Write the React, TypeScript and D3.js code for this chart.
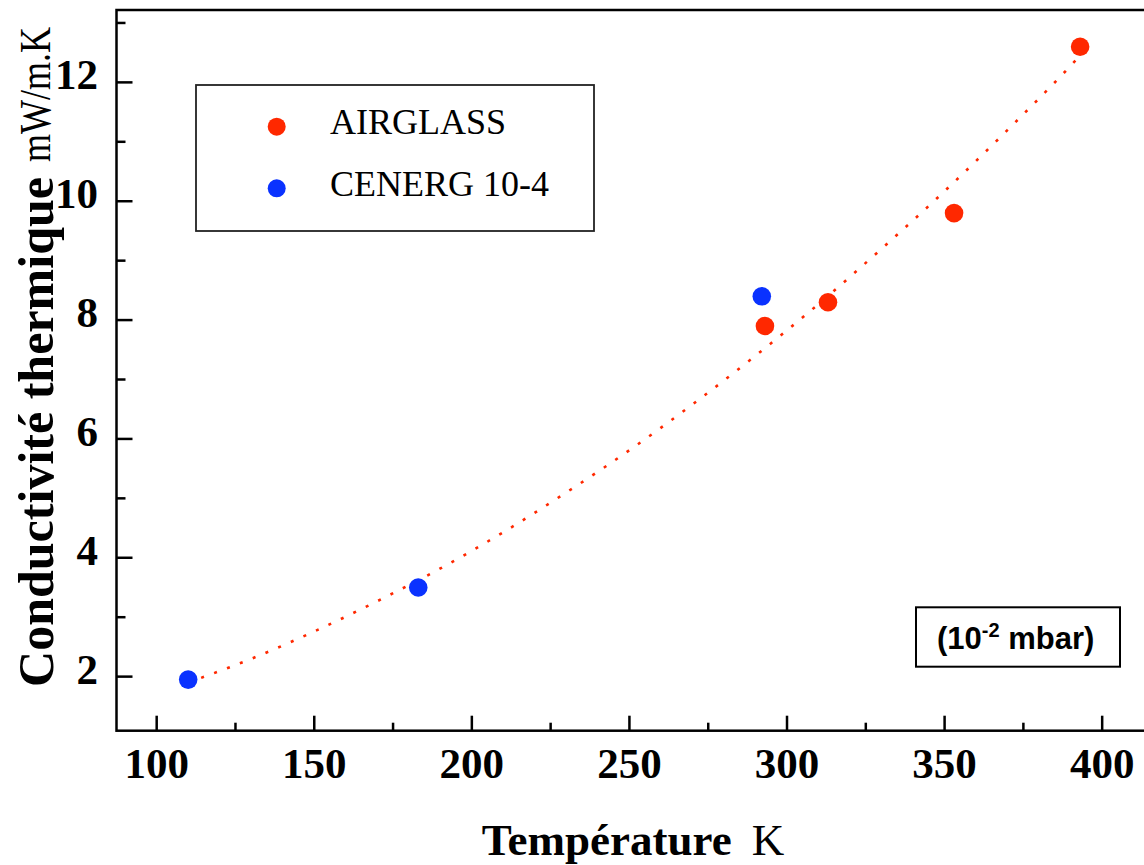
import React from "react";
import * as d3 from "d3";

const W = 1144;
const H = 865;

// Data
const airglassT = [293, 313, 353, 393];
const airglassK = [7.9, 8.3, 9.8, 12.6];
const cenergT = [110, 183, 292];
const cenergK = [1.95, 3.5, 8.4];
// fitted curve (dotted)
const fitT = [110, 130, 150, 170, 190, 210, 230, 250, 270, 290, 310, 330, 350, 370, 390, 393];
const fitK = [1.9, 2.3, 2.76, 3.27, 3.82, 4.43, 5.1, 5.81, 6.58, 7.4, 8.27, 9.2, 10.17, 11.2, 12.28, 12.45];

const xMajor = [100, 150, 200, 250, 300, 350, 400];
const xMinor = [125, 175, 225, 275, 325, 375];
const yMajor = [2, 4, 6, 8, 10, 12];
const yMinor = [3, 5, 7, 9, 11, 13];

const RED = "#ff2800";
const BLUE = "#0a32ff";

export default function App() {
  const x = d3.scaleLinear().domain([87.25, 414]).range([116.5, 1146.3]);
  const y = d3.scaleLinear().domain([1.09, 13.218]).range([730.7, 10]);
  const line = d3
    .line<number>()
    .x((_, i) => x(fitT[i]))
    .y((d) => y(d))
    .curve(d3.curveMonotoneX);

  const serif = "'Liberation Serif', 'Times New Roman', serif";
  const sans = "'Liberation Sans', Arial, sans-serif";
  const x0 = x.range()[0];
  const yb = y.range()[0];
  const yt = y.range()[1];

  return (
    <svg
      width={W}
      height={H}
      style={{ position: "absolute", left: 0, top: 0, display: "block", background: "#fff" }}
    >
      {/* fit curve */}
      <path
        d={line(fitK) || ""}
        fill="none"
        stroke={RED}
        strokeWidth={2.6}
        strokeDasharray="3 10.8"
      />
      {/* frame */}
      <rect x={x0} y={yt} width={x(414) - x0} height={yb - yt} fill="none" stroke="#000" strokeWidth={2.5} />
      {/* x ticks */}
      {xMajor.map((v) => (
        <g key={"xm" + v}>
          <line x1={x(v)} x2={x(v)} y1={yb} y2={yb - 15} stroke="#000" strokeWidth={2.5} />
          <text x={x(v)} y={778} textAnchor="middle" fontFamily={serif} fontWeight="bold" fontSize={43}>
            {v}
          </text>
        </g>
      ))}
      {xMinor.map((v) => (
        <line key={"xn" + v} x1={x(v)} x2={x(v)} y1={yb} y2={yb - 8} stroke="#000" strokeWidth={2.5} />
      ))}
      {/* y ticks */}
      {yMajor.map((v) => (
        <g key={"ym" + v}>
          <line x1={x0} x2={x0 + 16} y1={y(v)} y2={y(v)} stroke="#000" strokeWidth={2.5} />
          <text x={98} y={y(v) + 7} textAnchor="end" fontFamily={serif} fontWeight="bold" fontSize={43}>
            {v}
          </text>
        </g>
      ))}
      {yMinor.map((v) => (
        <line key={"yn" + v} x1={x0} x2={x0 + 9} y1={y(v)} y2={y(v)} stroke="#000" strokeWidth={2.5} />
      ))}
      {/* points */}
      {airglassT.map((t, i) => (
        <circle key={"a" + i} cx={x(t)} cy={y(airglassK[i])} r={9.3} fill={RED} />
      ))}
      {cenergT.map((t, i) => (
        <circle key={"c" + i} cx={x(t)} cy={y(cenergK[i])} r={9.3} fill={BLUE} />
      ))}
      {/* legend */}
      <rect x={196} y={85} width={398} height={146} fill="none" stroke="#222" strokeWidth={1.8} />
      <circle cx={276.7} cy={126.7} r={9} fill={RED} />
      <circle cx={276.7} cy={188.3} r={9} fill={BLUE} />
      <text x={330} y={134} fontFamily={serif} fontSize={36}>AIRGLASS</text>
      <text x={330} y={196} fontFamily={serif} fontSize={36}>CENERG 10-4</text>
      {/* pressure box */}
      <rect x={916} y={607.3} width={204} height={59.4} fill="none" stroke="#000" strokeWidth={2} />
      <text x={937} y={649.3} fontFamily={sans} fontWeight="bold" fontSize={31}>
        (10<tspan fontSize={20} dy={-12}>-2</tspan>
        <tspan dy={12}> mbar)</tspan>
      </text>
      {/* axis titles */}
      <text x={481.7} y={855} fontFamily={serif} fontSize={45}>
        <tspan fontWeight="bold">Température</tspan>
        <tspan x={751.7}>K</tspan>
      </text>
      <text
        transform="translate(53,687) rotate(-90)"
        fontFamily={serif}
        fontWeight="bold"
        fontSize={50}
        textLength={510}
        lengthAdjust="spacingAndGlyphs"
      >
        Conductivité thermique
      </text>
      <text
        transform="translate(50,162) rotate(-90)"
        fontFamily={serif}
        fontSize={44}
        textLength={135}
        lengthAdjust="spacingAndGlyphs"
      >
        mW/m.K
      </text>
    </svg>
  );
}
